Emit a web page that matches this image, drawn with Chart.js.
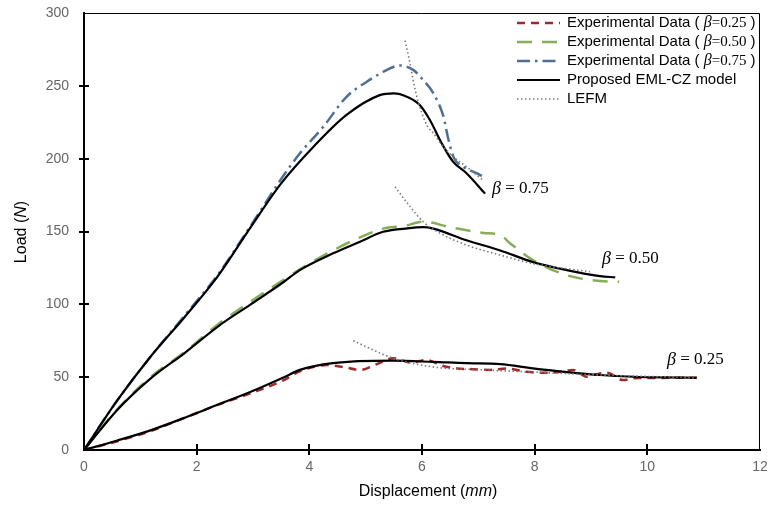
<!DOCTYPE html>
<html>
<head>
<meta charset="utf-8">
<script src="https://cdn.jsdelivr.net/npm/chart.js@4/dist/chart.umd.min.js"></script>
<style>
  html, body { margin: 0; padding: 0; background: #fff; }
  canvas { display: block; }
</style>
</head>
<body>
<canvas id="myChart" width="768" height="511"></canvas>
<script>
// x ticks / y ticks
const xTicks = [0, 2, 4, 6, 8, 10, 12];
const yTicks = [0, 50, 100, 150, 200, 250, 300];

// beta = 0.75
const exp75X = [0, 0.59, 1.18, 1.78, 2.37, 2.96, 3.5, 3.83, 4.25, 4.66, 5.02, 5.37, 5.61, 5.85, 6.02, 6.2, 6.38, 6.47, 6.56, 6.73, 6.97, 7.09];
const exp75Y = [0, 34, 64, 92, 120, 154, 186, 203.5, 222, 242.5, 252.8, 260.8, 264, 260.8, 254, 245, 229, 213, 201, 194.5, 190, 187.6];
const mod75X = [0, 0.59, 1.18, 1.78, 2.37, 2.96, 3.5, 4.07, 4.66, 5.25, 5.5, 5.73, 5.96, 6.14, 6.35, 6.55, 6.79, 7.12];
const mod75Y = [0, 34, 64, 91, 119, 153, 183, 208, 230, 243.6, 244.8, 242.5, 236.8, 226.5, 210.5, 198, 190, 176];
const lefm75X = [5.7, 5.79, 5.88, 6.0, 6.1, 6.2, 6.38, 6.56, 6.79, 7.09];
const lefm75Y = [281, 265, 247, 231, 222, 217.6, 208, 201, 194.5, 185];

// beta = 0.50
const exp50X = [0, 0.59, 1.18, 1.78, 2.37, 2.96, 3.55, 3.83, 4.42, 4.9, 5.31, 5.7, 6.02, 6.5, 7.09, 7.39, 7.56, 7.97, 8.57, 9.16, 9.5];
const exp50Y = [0, 28, 50, 67, 86, 102, 117, 124, 137, 146, 152, 154, 156.7, 153, 149, 147.6, 142, 130.4, 120, 116, 115.5];
const mod50X = [0, 0.59, 1.18, 1.78, 2.37, 2.96, 3.55, 3.83, 4.42, 4.9, 5.31, 5.7, 6.02, 6.2, 6.79, 7.39, 7.97, 8.57, 9.16, 9.43];
const mod50Y = [0, 27.5, 49, 66.4, 84.6, 100, 115.5, 123.5, 135, 143, 149.8, 152, 153, 152, 144, 137, 129, 123.5, 119.4, 118.5];
const lefm50X = [5.52, 5.79, 6.02, 6.32, 6.79, 7.39, 7.97, 8.98];
const lefm50Y = [180.7, 167, 156.7, 148.8, 140.7, 133.8, 128, 122.4];

// beta = 0.25
const exp25X = [0, 0.59, 1.18, 1.78, 2.37, 2.96, 3.55, 3.83, 4.31, 4.6, 4.9, 5.2, 5.49, 5.8, 6.08, 6.35, 6.62, 6.9, 7.21, 7.5, 7.86, 8.2, 8.5, 8.68, 8.92, 9.1, 9.28, 9.57, 9.75, 10.2, 10.88];
const exp25Y = [0, 6, 13, 22, 31, 39, 48, 54, 58.3, 57, 55, 59, 63, 60, 61.8, 58, 56, 55.5, 55, 56, 53.7, 53, 54, 55, 50.3, 52, 53, 48, 49.2, 49.5, 49.6];
const mod25X = [0, 0.59, 1.18, 1.78, 2.37, 2.96, 3.55, 3.83, 4.42, 5.49, 6.2, 6.79, 7.39, 7.97, 8.57, 9.16, 9.75, 10.3, 10.88];
const mod25Y = [0, 6.5, 13.5, 22, 31, 40, 50, 55, 59.6, 61.3, 60.5, 59.6, 59, 56, 53.5, 51.5, 50.3, 49.8, 49.6];
const lefm25X = [4.78, 5.49, 6.2, 7.09, 7.97, 9.16, 10.88];
const lefm25Y = [75, 63, 57, 55, 53.5, 51.5, 49.6];

const toPoints = (xs, ys) => xs.map((x, i) => ({ x: x, y: ys[i] }));

const RED = '#9e2a2b';
const GREEN = '#86ad57';
const BLUE = '#4e6f95';
const GRAY = '#7a7a7a';

const smooth = { showLine: true, pointRadius: 0, cubicInterpolationMode: 'monotone' };
const expStyle = { ...smooth, borderWidth: 2.5, order: 3 };
const modStyle = { ...smooth, borderWidth: 2.2, borderColor: '#000', order: 2 };
const lefmStyle = { ...smooth, borderWidth: 1.6, borderColor: GRAY, borderDash: [1.5, 2.5], order: 1 };

const datasets = [
  { ...expStyle, label: 'exp25', data: toPoints(exp25X, exp25Y), borderColor: RED, borderDash: [8, 6] },
  { ...expStyle, label: 'exp50', data: toPoints(exp50X, exp50Y), borderColor: GREEN, borderDash: [15, 10] },
  { ...expStyle, label: 'exp75', data: toPoints(exp75X, exp75Y), borderColor: BLUE, borderDash: [13, 5, 2.5, 5] },
  { ...modStyle, label: 'mod25', data: toPoints(mod25X, mod25Y) },
  { ...modStyle, label: 'mod50', data: toPoints(mod50X, mod50Y) },
  { ...modStyle, label: 'mod75', data: toPoints(mod75X, mod75Y) },
  { ...lefmStyle, label: 'lefm25', data: toPoints(lefm25X, lefm25Y) },
  { ...lefmStyle, label: 'lefm50', data: toPoints(lefm50X, lefm50Y) },
  { ...lefmStyle, label: 'lefm75', data: toPoints(lefm75X, lefm75Y) }
];

// draw a sequence of [text, font] pieces left to right
function drawPieces(ctx, pieces, x, y) {
  let cx = x;
  pieces.forEach(p => {
    ctx.font = p[1];
    ctx.fillText(p[0], cx, y);
    cx += ctx.measureText(p[0]).width;
  });
  return cx;
}
function piecesWidth(ctx, pieces) {
  let w = 0;
  pieces.forEach(p => { ctx.font = p[1]; w += ctx.measureText(p[0]).width; });
  return w;
}

const SANS = '"Liberation Sans", Arial, sans-serif';
const SERIF = '"Liberation Serif", "Times New Roman", serif';

const extras = {
  id: 'extras',
  afterDraw(chart) {
    const ctx = chart.ctx;
    const a = chart.chartArea;
    const xs = chart.scales.x, ys = chart.scales.y;
    ctx.save();

    // frame top / right
    ctx.strokeStyle = '#000';
    ctx.lineWidth = 1;
    ctx.beginPath();
    ctx.moveTo(a.left, a.top + 0.5);
    ctx.lineTo(a.right - 0.5, a.top + 0.5);
    ctx.lineTo(a.right - 0.5, a.bottom);
    ctx.stroke();

    // tick marks across the axes
    ctx.lineWidth = 2;
    xTicks.slice(1, -1).forEach(v => {
      const px = Math.round(xs.getPixelForValue(v));
      ctx.beginPath(); ctx.moveTo(px, a.bottom - 6); ctx.lineTo(px, a.bottom + 5); ctx.stroke();
    });
    yTicks.slice(1, -1).forEach(v => {
      const py = Math.round(ys.getPixelForValue(v));
      ctx.beginPath(); ctx.moveTo(a.left - 5, py); ctx.lineTo(a.left + 5, py); ctx.stroke();
    });

    // axis titles
    ctx.fillStyle = '#000';
    ctx.textBaseline = 'middle';
    const xt = [['Displacement (', '16px ' + SANS], ['mm', 'italic 16px ' + SANS], [')', '16px ' + SANS]];
    drawPieces(ctx, xt, 428 - piecesWidth(ctx, xt) / 2, 492);
    ctx.save();
    ctx.translate(22, 232);
    ctx.rotate(-Math.PI / 2);
    const yt = [['Load (', '16px ' + SANS], ['N', 'italic 16px ' + SANS], [')', '16px ' + SANS]];
    drawPieces(ctx, yt, -piecesWidth(ctx, yt) / 2, 0);
    ctx.restore();

    // beta annotations
    const betaLabels = [['0.75', 492, 189], ['0.50', 602, 259], ['0.25', 667, 360]];
    betaLabels.forEach(b => {
      drawPieces(ctx, [['\u03b2', 'italic 18px ' + SERIF], [' = ', '17px ' + SERIF], [b[0], '17px ' + SERIF]], b[1], b[2]);
    });

    // legend
    const F = '15px ' + SANS;
    const beta = v => [['Experimental Data ( ', F], ['\u03b2', 'italic 16px ' + SERIF], ['=' + v, '15px ' + SERIF], [' )', F]];
    const rows = [
      { ds: 0, text: beta('0.25') },
      { ds: 1, text: beta('0.50') },
      { ds: 2, text: beta('0.75') },
      { ds: 3, text: [['Proposed EML-CZ model', F]] },
      { ds: 6, text: [['LEFM', F]] }
    ];
    const rowY = [23, 42, 61, 80, 99];
    rows.forEach((r, i) => {
      const d = chart.data.datasets[r.ds];
      ctx.strokeStyle = d.borderColor;
      ctx.lineWidth = d.borderWidth;
      ctx.setLineDash(d.borderDash || []);
      ctx.beginPath(); ctx.moveTo(517, rowY[i]); ctx.lineTo(560, rowY[i]); ctx.stroke();
      ctx.setLineDash([]);
      ctx.fillStyle = '#000';
      drawPieces(ctx, r.text, 567, rowY[i]);
    });
    ctx.restore();
  }
};

new Chart(document.getElementById('myChart'), {
  type: 'scatter',
  data: { datasets: datasets },
  options: {
    responsive: false,
    animation: false,
    layout: { padding: { left: 0, right: 8, top: 13, bottom: 0 } },
    plugins: { legend: { display: false }, tooltip: { enabled: false } },
    scales: {
      x: {
        type: 'linear', min: 0, max: 12,
        afterFit(scale) { scale.height = 61; scale.paddingLeft = 0; scale.paddingRight = 0; },
        afterBuildTicks(scale) { scale.ticks = xTicks.map(v => ({ value: v })); },
        grid: { display: false },
        border: { display: true, color: '#000', width: 2 },
        ticks: { color: '#666', font: { family: SANS, size: 14 }, padding: 1 }
      },
      y: {
        type: 'linear', min: 0, max: 300,
        afterFit(scale) { scale.width = 84; scale.paddingTop = 0; scale.paddingBottom = 0; },
        afterBuildTicks(scale) { scale.ticks = yTicks.map(v => ({ value: v })); },
        grid: { display: false },
        border: { display: true, color: '#000', width: 2 },
        ticks: { color: '#666', font: { family: SANS, size: 14 }, padding: 7 }
      }
    }
  },
  plugins: [extras]
});
</script>
</body>
</html>
